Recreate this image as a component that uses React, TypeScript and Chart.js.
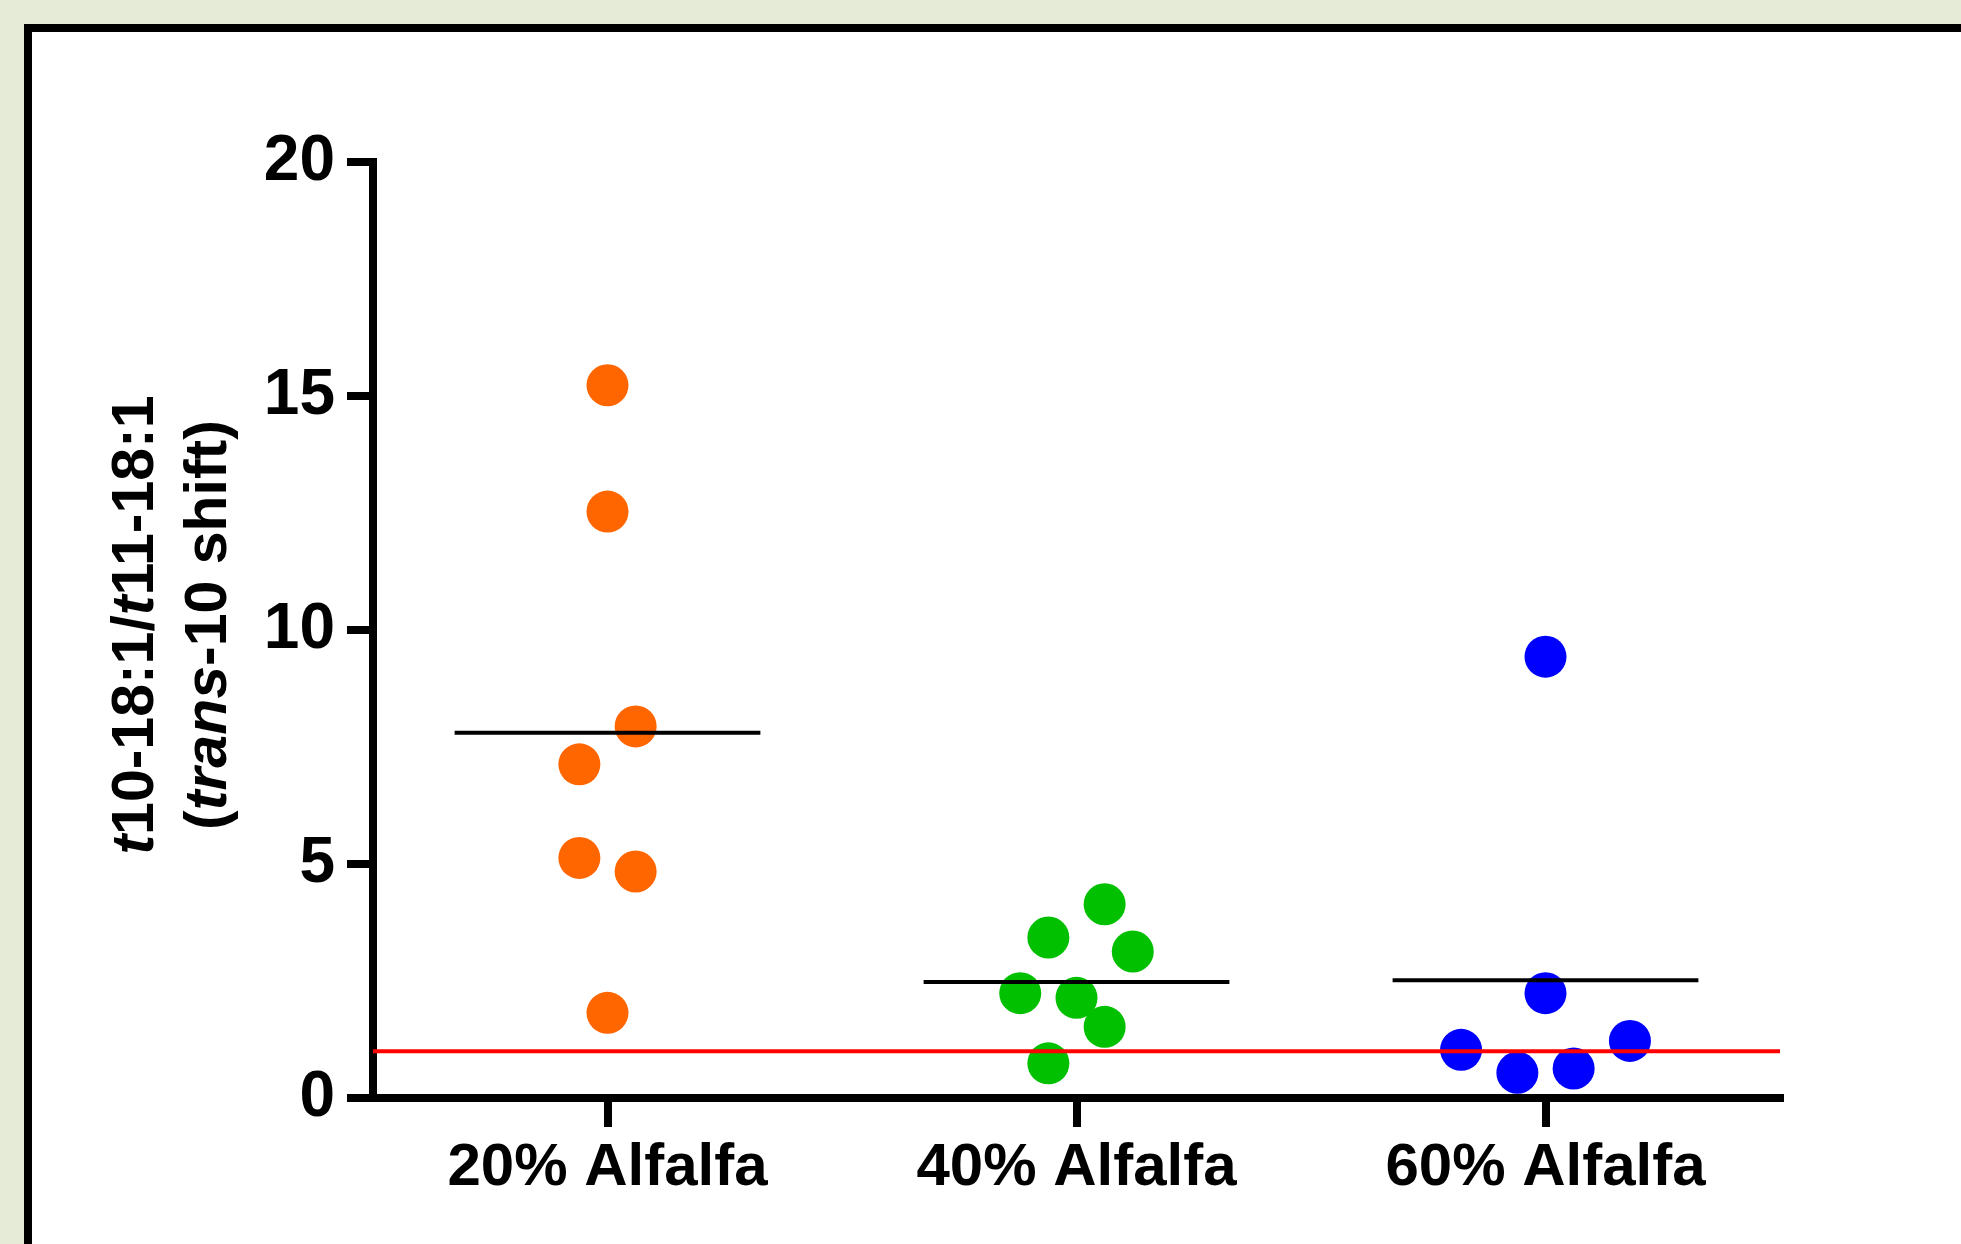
import React, { useEffect, useRef } from "react";
import { Chart, registerables } from "chart.js";

Chart.register(...registerables);

// ---- data ----
const categories = ["20% Alfalfa", "40% Alfalfa", "60% Alfalfa"];
const alfalfa20 = [15.23, 12.53, 7.94, 7.13, 5.13, 4.84, 1.82];
const alfalfa40 = [4.14, 3.43, 3.13, 2.24, 2.14, 1.52, 0.74];
const alfalfa60 = [9.43, 2.24, 1.03, 1.22, 0.54, 0.63];
// horizontal scatter slot of each point (jitter, in slots)
const slots20 = [0, 0, 1, -1, -1, 1, 0];
const slots40 = [1, -1, 2, -2, 0, 1, -1];
const slots60 = [0, 0, -3, 3, -1, 1];
const yTicks = [0, 5, 10, 15, 20];
const referenceLevel = 1;
const titleLine1 = [
  { text: "t", italic: true },
  { text: "10-18:1/", italic: false },
  { text: "t", italic: true },
  { text: "11-18:1", italic: false },
];
const titleLine2 = [
  { text: "(", italic: false },
  { text: "trans", italic: true },
  { text: "-10 shift)", italic: false },
];

const seriesColors = ["#FF6600", "#00C000", "#0000FF"];
const SLOT = 0.06;
const MEAN_HALF = 0.326;
const FONT = "'Liberation Sans', Arial, Helvetica, sans-serif";

const mean = (a: number[]) => a.reduce((s, v) => s + v, 0) / a.length;

function drawRich(ctx: CanvasRenderingContext2D, parts: { text: string; italic: boolean }[], x: number, y: number, size: number) {
  ctx.save();
  ctx.translate(x, y);
  ctx.rotate(-Math.PI / 2);
  ctx.fillStyle = "#000";
  ctx.textBaseline = "alphabetic";
  ctx.textAlign = "left";
  const fonts = parts.map((p) => `${p.italic ? "italic " : ""}bold ${size}px ${FONT}`);
  let total = 0;
  const widths = parts.map((p, i) => {
    ctx.font = fonts[i];
    const w = ctx.measureText(p.text).width;
    total += w;
    return w;
  });
  let cx = -total / 2;
  parts.forEach((p, i) => {
    ctx.font = fonts[i];
    ctx.fillText(p.text, cx, 0);
    cx += widths[i];
  });
  ctx.restore();
}

const yTitlePlugin = {
  id: "yTitleRich",
  afterDraw(chart: any) {
    const { ctx, chartArea } = chart;
    const cy = (chartArea.top + chartArea.bottom) / 2 - 5;
    drawRich(ctx, titleLine1, chartArea.left - 220, cy, 59);
    drawRich(ctx, titleLine2, chartArea.left - 147, cy, 59);
  },
};

export default function App() {
  const ref = useRef<HTMLCanvasElement | null>(null);

  useEffect(() => {
    if (!ref.current) return;
    const groups = [
      { values: alfalfa20, slots: slots20 },
      { values: alfalfa40, slots: slots40 },
      { values: alfalfa60, slots: slots60 },
    ];
    const pointSets = groups.map((g, gi) => ({
      type: "scatter" as const,
      label: categories[gi],
      data: g.values.map((v, i) => ({ x: gi + 1 + g.slots[i] * SLOT, y: v })),
      backgroundColor: seriesColors[gi],
      borderWidth: 0,
      pointRadius: 21,
      pointHoverRadius: 21,
      order: 2,
    }));
    const meanSets = groups.map((g, gi) => ({
      type: "line" as const,
      label: "mean " + categories[gi],
      data: [
        { x: gi + 1 - MEAN_HALF, y: mean(g.values) },
        { x: gi + 1 + MEAN_HALF, y: mean(g.values) },
      ],
      borderColor: "#000000",
      borderWidth: 4,
      pointRadius: 0,
      fill: false,
      order: 1,
    }));
    const refSet = {
      type: "line" as const,
      label: "reference",
      data: [
        { x: 0.5, y: referenceLevel },
        { x: categories.length + 0.5, y: referenceLevel },
      ],
      borderColor: "#FF0000",
      borderWidth: 4,
      pointRadius: 0,
      fill: false,
      order: 0,
    };

    const chart = new Chart(ref.current, {
      type: "scatter",
      data: { datasets: [...pointSets, ...meanSets, refSet] as any },
      options: {
        animation: false,
        responsive: false,
        devicePixelRatio: 1,
        layout: { padding: { left: 0, top: 162, right: 181, bottom: 0 } },
        plugins: { legend: { display: false }, tooltip: { enabled: false } },
        scales: {
          x: {
            type: "linear",
            min: 0.5,
            max: categories.length + 0.5,
            afterFit: (s: any) => {
              s.height = 146;
            },
            afterBuildTicks: (s: any) => {
              s.ticks = categories.map((_, i) => ({ value: i + 1 }));
            },
            grid: {
              display: true,
              drawOnChartArea: false,
              drawTicks: true,
              tickLength: 29,
              lineWidth: 8,
              color: "#000000",
            },
            border: { display: true, color: "#000000", width: 8 },
            ticks: {
              color: "#000000",
              padding: 5,
              maxRotation: 0,
              autoSkip: false,
              font: { family: FONT, size: 60, weight: "bold" },
              callback: (v: any) => categories[Math.round(Number(v)) - 1] ?? "",
            },
          },
          y: {
            type: "linear",
            min: yTicks[0],
            max: yTicks[yTicks.length - 1],
            afterFit: (s: any) => {
              s.width = 373;
            },
            afterBuildTicks: (s: any) => {
              s.ticks = yTicks.map((v) => ({ value: v }));
            },
            grid: {
              display: true,
              drawOnChartArea: false,
              drawTicks: true,
              tickLength: 26,
              lineWidth: 8,
              color: "#000000",
            },
            border: { display: true, color: "#000000", width: 8 },
            ticks: {
              color: "#000000",
              padding: 12,
              font: { family: FONT, size: 64, weight: "bold" },
            },
          },
        },
      },
      plugins: [yTitlePlugin],
    } as any);
    return () => chart.destroy();
  }, []);

  return (
    <div
      style={{
        position: "fixed",
        left: 0,
        top: 0,
        width: 1961,
        height: 1244,
        overflow: "hidden",
        background: "#E6EBD7",
      }}
    >
      <div
        style={{
          position: "absolute",
          left: 24,
          top: 24,
          width: 2100,
          height: 1400,
          border: "8px solid #000",
          background: "#FFFFFF",
        }}
      />
      <canvas
        ref={ref}
        width={1961}
        height={1244}
        style={{ position: "absolute", left: 0, top: 0, width: 1961, height: 1244 }}
      />
    </div>
  );
}
